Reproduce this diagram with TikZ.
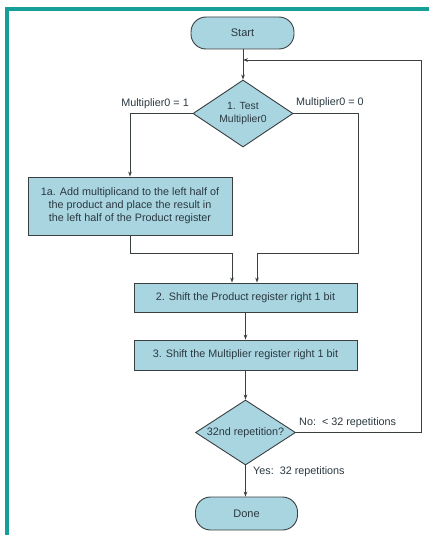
\documentclass[tikz,border=0pt]{standalone}
\usepackage{fontspec}
\setmainfont{Liberation Sans}
\usetikzlibrary{shapes.geometric,arrows.meta}
\definecolor{boxfill}{HTML}{A9D5E0}
\definecolor{frameteal}{HTML}{159F98}
\definecolor{inktext}{HTML}{2A3840}
\definecolor{edgecol}{HTML}{3A3F42}
\tikzset{
  every node/.style={font=\fontsize{10.8}{13}\selectfont, text=inktext},
  terminal/.style={draw=edgecol, line width=0.9pt, fill=boxfill, rounded corners=15pt, minimum width=103pt, minimum height=32pt, inner sep=0pt, font=\fontsize{11}{13}\selectfont},
  stepbox/.style={draw=edgecol, line width=0.9pt, fill=boxfill, inner sep=0pt, align=center},
  decision/.style={draw=edgecol, line width=0.9pt, fill=boxfill, diamond, aspect=1.5, inner sep=0pt, minimum width=100pt, minimum height=67pt, align=center},
  flow/.style={draw=edgecol, line width=0.8pt, -{Stealth[length=5pt,width=3.6pt]}},
  lbl/.style={inner sep=0pt}
}
\begin{document}
\begin{tikzpicture}[x=1pt,y=-1pt]
\useasboundingbox (0,0) rectangle (429,535);
\fill[white] (0,0) rectangle (429,535);
% teal frame
\fill[frameteal] (5,7) rectangle (429,11);
\fill[frameteal] (5,7) rectangle (9,535);

\node[terminal] (start) at (242.5,33) {Start};
\node[decision, font=\fontsize{10.4}{12.5}\selectfont] (d1) at (243,113.5) {1. Test\\Multiplier0};
\node[stepbox, minimum width=204pt, minimum height=58pt] (s1a) at (130,206) {1a. Add multiplicand to the left half of\\the product and place the result in\\the left half of the Product register};
\node[stepbox, minimum width=223pt, minimum height=29pt] (s2) at (245.5,297.5) {2. Shift the Product register right 1 bit};
\node[stepbox, minimum width=223pt, minimum height=30pt] (s3) at (245.5,355) {3. Shift the Multiplier register right 1 bit};
\node[decision, minimum height=65pt] (d2) at (245.5,432.5) {32nd repetition?};
\node[terminal, minimum width=102pt, minimum height=33pt] (done) at (246.5,513.5) {Done};

\coordinate (join) at (243,60);
\coordinate (loopR) at (421,60);
\coordinate (loopB) at (421,432.5);
\coordinate (rA) at (358,113.5);
\coordinate (rB) at (358,253);
\coordinate (rC) at (257,253);
\coordinate (lA) at (130,253);
\coordinate (lB) at (232,253);

% connectors
\draw[flow] (start.south -| d1.north) -- (d1.north);
\draw[flow] (d1.west) -| (s1a.north);
\draw[flow] (d1.east) -- (rA) -- (rB) -- (rC) -- (rC |- s2.north);
\draw[flow] (s1a.south) -- (lA) -- (lB) -- (lB |- s2.north);
\draw[flow] (s2.south) -- (s3.north);
\draw[flow] (s3.south) -- (d2.north);
\draw[flow] (d2.south) -- (d2.south |- done.north);
\draw[flow] (d2.east) -- (loopB) -- (loopR) -- (join);

% labels
\node[lbl, anchor=east] (l1) at (189,104) {Multiplier0 = 1};
\node[lbl, anchor=west] (l0) at (296,103) {Multiplier0 = 0};
\node[lbl, anchor=west] (lno) at (299,423) {No:\ \ < 32 repetitions};
\node[lbl, anchor=west] (lyes) at (253,472) {Yes:\ \ 32 repetitions};
\end{tikzpicture}
\end{document}
